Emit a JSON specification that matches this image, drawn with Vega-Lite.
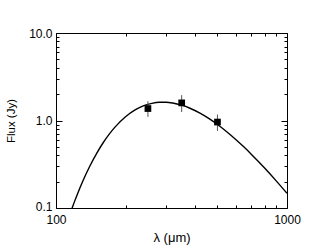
{
  "$schema": "https://vega.github.io/schema/vega-lite/v6.json",
  "width": 231,
  "height": 175,
  "autosize": {"type": "none"},
  "padding": {"left": 56, "top": 33, "right": 24, "bottom": 41},
  "background": "white",
  "config": {
    "view": {"stroke": "black", "strokeWidth": 1},
    "font": "Liberation Sans",
    "axis": {
      "domain": false,
      "grid": false,
      "labelFlush": false,
      "labelOverlap": false,
      "tickColor": "black",
      "tickWidth": 1,
      "labelFont": "Liberation Sans",
      "labelFontSize": 12,
      "labelColor": "black",
      "titleFont": "Liberation Sans",
      "titleFontWeight": "normal",
      "titleColor": "black"
    }
  },
  "datasets": {
    "curve": [
      {"lam": 116, "flux": 0.0914},
      {"lam": 118, "flux": 0.1035},
      {"lam": 120, "flux": 0.1167},
      {"lam": 125, "flux": 0.1538},
      {"lam": 130, "flux": 0.197},
      {"lam": 140, "flux": 0.2998},
      {"lam": 150, "flux": 0.4216},
      {"lam": 160, "flux": 0.5567},
      {"lam": 170, "flux": 0.6979},
      {"lam": 180, "flux": 0.8398},
      {"lam": 200, "flux": 1.104},
      {"lam": 220, "flux": 1.3206},
      {"lam": 240, "flux": 1.476},
      {"lam": 260, "flux": 1.572},
      {"lam": 280, "flux": 1.615},
      {"lam": 300, "flux": 1.615},
      {"lam": 320, "flux": 1.584},
      {"lam": 350, "flux": 1.496},
      {"lam": 380, "flux": 1.381},
      {"lam": 420, "flux": 1.2137},
      {"lam": 460, "flux": 1.05},
      {"lam": 500, "flux": 0.9007},
      {"lam": 550, "flux": 0.7398},
      {"lam": 600, "flux": 0.6072},
      {"lam": 650, "flux": 0.4997},
      {"lam": 700, "flux": 0.4127},
      {"lam": 750, "flux": 0.3426},
      {"lam": 800, "flux": 0.286},
      {"lam": 900, "flux": 0.2028},
      {"lam": 1000, "flux": 0.147}
    ],
    "obs": [
      {"lam": 250, "flux": 1.37, "lo": 1.10, "hi": 1.66},
      {"lam": 350, "flux": 1.59, "lo": 1.25, "hi": 1.95},
      {"lam": 500, "flux": 0.96, "lo": 0.76, "hi": 1.17}
    ]
  },
  "layer": [
    {
      "data": {"name": "curve"},
      "mark": {"type": "line", "color": "black", "strokeWidth": 1.4, "clip": true, "interpolate": "monotone"},
      "encoding": {
        "x": {
          "field": "lam", "type": "quantitative",
          "scale": {"type": "log", "domain": [100, 1000], "nice": false},
          "axis": {
            "orient": "bottom", "title": "λ (μm)", "titleFontSize": 13,
            "values": [100, 200, 300, 400, 500, 600, 700, 800, 900, 1000],
            "labelExpr": "datum.value == 100 || datum.value == 1000 ? datum.value : ''",
            "tickSize": {"condition": {"test": "datum.value == 100 || datum.value == 1000", "value": -6}, "value": -3},
            "labelPadding": 12,
            "titlePadding": 3
          }
        },
        "y": {
          "field": "flux", "type": "quantitative",
          "scale": {"type": "log", "domain": [0.1, 10], "nice": false},
          "axis": {
            "orient": "left", "title": "Flux (Jy)", "titleFontSize": 11.5,
            "values": [0.1, 0.2, 0.3, 0.4, 0.5, 0.6, 0.7, 0.8, 0.9, 1, 2, 3, 4, 5, 6, 7, 8, 9, 10],
            "labelExpr": "datum.value == 0.1 ? '0.1' : datum.value == 1 ? '1.0' : datum.value == 10 ? '10.0' : ''",
            "labelOffset": {"condition": {"test": "datum.value == 0.1", "value": -2}, "value": 0},
            "tickSize": {"condition": {"test": "datum.value == 0.1 || datum.value == 1 || datum.value == 10", "value": -6}, "value": -3},
            "labelPadding": 10,
            "titlePadding": 12
          }
        }
      }
    },
    {
      "data": {"name": "obs"},
      "mark": {"type": "rule", "color": "#555555", "strokeWidth": 1},
      "encoding": {
        "x": {"field": "lam", "type": "quantitative", "scale": {"type": "log", "domain": [100, 1000], "nice": false}, "axis": null},
        "y": {"field": "lo", "type": "quantitative", "scale": {"type": "log", "domain": [0.1, 10], "nice": false}, "axis": null},
        "y2": {"field": "hi"}
      }
    },
    {
      "data": {"name": "obs"},
      "mark": {"type": "point", "shape": "square", "filled": true, "color": "black", "size": 45, "opacity": 1},
      "encoding": {
        "x": {
          "field": "lam", "type": "quantitative",
          "scale": {"type": "log", "domain": [100, 1000], "nice": false},
          "axis": {
            "orient": "top", "title": null, "labels": false,
            "values": [100, 200, 300, 400, 500, 600, 700, 800, 900, 1000],
            "tickSize": {"condition": {"test": "datum.value == 100 || datum.value == 1000", "value": -6}, "value": -3}
          }
        },
        "y": {
          "field": "flux", "type": "quantitative",
          "scale": {"type": "log", "domain": [0.1, 10], "nice": false},
          "axis": {
            "orient": "right", "title": null, "labels": false,
            "values": [0.1, 0.2, 0.3, 0.4, 0.5, 0.6, 0.7, 0.8, 0.9, 1, 2, 3, 4, 5, 6, 7, 8, 9, 10],
            "tickSize": {"condition": {"test": "datum.value == 0.1 || datum.value == 1 || datum.value == 10", "value": -6}, "value": -3}
          }
        }
      }
    }
  ],
  "resolve": {"axis": {"x": "independent", "y": "independent"}}
}
